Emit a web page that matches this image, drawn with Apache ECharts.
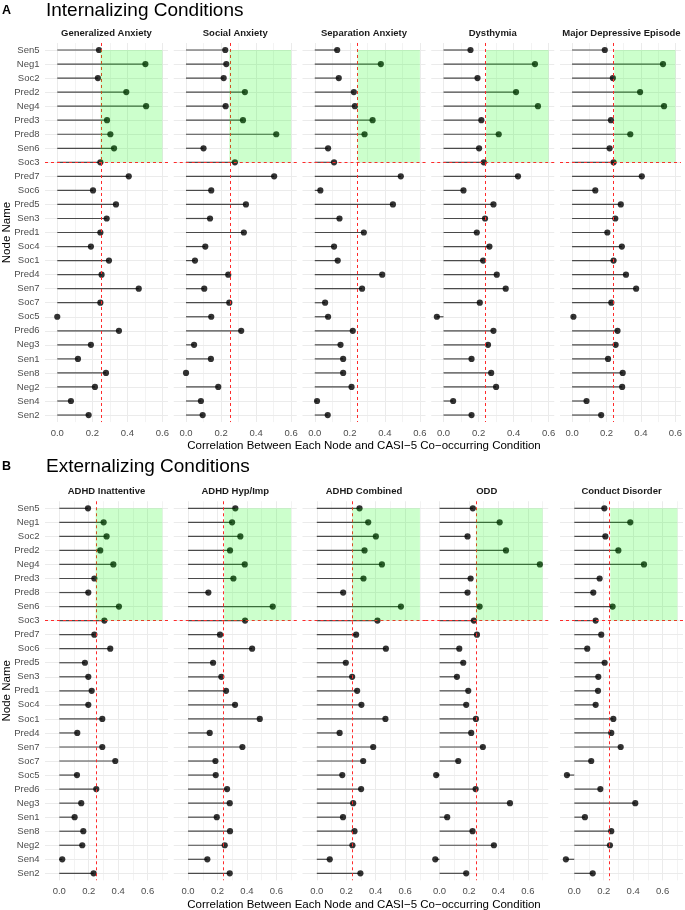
<!DOCTYPE html>
<html><head><meta charset="utf-8">
<script src="https://cdn.jsdelivr.net/npm/echarts@6/dist/echarts.min.js"></script>
<style>html,body{margin:0;padding:0;background:#fff}#c{width:685px;height:910px}</style>
</head><body><div id="c"></div>
<script>
// ---------- DATA ----------
const nodes = ['Sen5','Neg1','Soc2','Pred2','Neg4','Pred3','Pred8','Sen6','Soc3','Pred7','Soc6','Pred5','Sen3','Pred1','Soc4','Soc1','Pred4','Sen7','Soc7','Soc5','Pred6','Neg3','Sen1','Sen8','Neg2','Sen4','Sen2'];
const internalizingFacets = ['Generalized Anxiety','Social Anxiety','Separation Anxiety','Dysthymia','Major Depressive Episode'];
const externalizingFacets = ['ADHD Inattentive','ADHD Hyp/Imp','ADHD Combined','ODD','Conduct Disorder'];

const generalizedAnxiety = [0.238,0.503,0.232,0.394,0.507,0.284,0.303,0.324,0.246,0.408,0.204,0.335,0.282,0.246,0.192,0.295,0.253,0.465,0.246,0.000,0.352,0.192,0.118,0.278,0.215,0.078,0.179];
const socialAnxiety = [0.224,0.230,0.215,0.336,0.226,0.325,0.515,0.100,0.279,0.503,0.144,0.342,0.137,0.330,0.110,0.051,0.241,0.104,0.247,0.144,0.315,0.046,0.142,0.000,0.184,0.085,0.095];
const separationAnxiety = [0.128,0.377,0.137,0.223,0.229,0.330,0.284,0.076,0.110,0.491,0.032,0.446,0.141,0.280,0.110,0.131,0.385,0.270,0.059,0.076,0.217,0.147,0.162,0.162,0.210,0.013,0.074];
const dysthymia = [0.154,0.522,0.194,0.414,0.539,0.216,0.315,0.203,0.230,0.425,0.114,0.285,0.237,0.190,0.262,0.226,0.304,0.355,0.207,-0.038,0.285,0.254,0.160,0.272,0.300,0.055,0.160];
const majorDepressive = [0.190,0.528,0.237,0.395,0.534,0.226,0.338,0.218,0.241,0.405,0.135,0.283,0.251,0.205,0.289,0.241,0.313,0.372,0.228,0.008,0.264,0.253,0.209,0.294,0.291,0.084,0.169];

const adhdInattentive = [0.195,0.301,0.321,0.278,0.367,0.238,0.197,0.405,0.306,0.238,0.346,0.174,0.197,0.220,0.197,0.292,0.122,0.292,0.380,0.120,0.251,0.149,0.104,0.163,0.156,0.020,0.233];
const adhdHypImp = [0.321,0.299,0.355,0.285,0.385,0.308,0.138,0.575,0.387,0.217,0.435,0.170,0.226,0.258,0.319,0.487,0.147,0.369,0.186,0.188,0.265,0.283,0.195,0.285,0.249,0.131,0.283];
const adhdCombined = [0.290,0.349,0.401,0.324,0.442,0.317,0.179,0.571,0.412,0.267,0.469,0.197,0.240,0.274,0.303,0.466,0.155,0.383,0.315,0.173,0.301,0.247,0.178,0.256,0.242,0.088,0.296];
const odd = [0.226,0.408,0.190,0.451,0.681,0.211,0.190,0.272,0.233,0.254,0.134,0.161,0.118,0.195,0.181,0.247,0.215,0.294,0.127,-0.023,0.245,0.478,0.052,0.224,0.369,-0.029,0.181];
const conductDisorder = [0.204,0.380,0.211,0.299,0.473,0.172,0.129,0.260,0.145,0.183,0.088,0.206,0.163,0.161,0.145,0.265,0.251,0.315,0.115,-0.050,0.177,0.414,0.072,0.251,0.242,-0.057,0.125];

const thresholdsA = [0.246,0.247,0.244,0.243,0.245];
const thresholdsB = [0.247,0.245,0.240,0.247,0.245];
const highlightNode = 'Soc3';
const boxTopNode = 'Sen5';
const boxMaxA = 0.6;
const boxMaxB = 0.7;
const tickLabelsA = [0, 0.2, 0.4, 0.6];
const tickLabelsB = [0, 0.2, 0.4, 0.6];
const gridValsA = [0, 0.1, 0.2, 0.3, 0.4, 0.5, 0.6];
const gridValsB = [0, 0.1, 0.2, 0.3, 0.4, 0.5, 0.6, 0.7];

// ---------- LAYOUT ----------
const FONT = '"Liberation Sans", Arial, Helvetica, sans-serif';
const ROW = 14.04;
const panels = [
  {letter:'A', title:'Internalizing Conditions', titleY:10.5, stripY:33, top:50 - ROW/2,
   facets: internalizingFacets, values:[generalizedAnxiety, socialAnxiety, separationAnxiety, dysthymia, majorDepressive],
   thr: thresholdsA, boxMax: boxMaxA, min:-0.07, max:0.632, ticks: tickLabelsA, gridVals: gridValsA,
   shift:[0,0,0,0,0]},
  {letter:'B', title:'Externalizing Conditions', titleY:467, stripY:491, top:508.3 - ROW/2,
   facets: externalizingFacets, values:[adhdInattentive, adhdHypImp, adhdCombined, odd, conductDisorder],
   thr: thresholdsB, boxMax: boxMaxB, min:-0.097, max:0.738, ticks: tickLabelsB, gridVals: gridValsB,
   shift:[0,0,0,-6,0]}
];
const FACET_LEFT = 45, FACET_STEP = 128.75, FACET_W = 123;
const H = ROW * nodes.length;

const grid = [], xAxis = [], yAxis = [], series = [], graphic = [];
let gi = 0;
const hiIdx = nodes.indexOf(highlightNode);
const topIdx = nodes.indexOf(boxTopNode);

panels.forEach((p) => {
  graphic.push({type:'text', x:2, y:p.titleY, style:{text:p.letter, font:'bold 12.5px ' + FONT, fill:'#000', verticalAlign:'middle', textVerticalAlign:'middle'}});
  graphic.push({type:'text', x:46, y:p.titleY, style:{text:p.title, font:'19px ' + FONT, fill:'#000', verticalAlign:'middle', textVerticalAlign:'middle'}});
  graphic.push({type:'text', x:364, y:p.top + H + 24, style:{text:'Correlation Between Each Node and CASI\u22125 Co\u2212occurring Condition', font:'11.5px ' + FONT, fill:'#000', align:'center', textAlign:'center', verticalAlign:'middle', textVerticalAlign:'middle'}});
  graphic.push({type:'text', x:7, y:p.top + H/2, rotation:Math.PI/2, style:{text:'Node Name', font:'11.5px ' + FONT, fill:'#000', align:'center', textAlign:'center', verticalAlign:'middle', textVerticalAlign:'middle'}});
  p.facets.forEach((name, i) => {
    const left = FACET_LEFT + i * FACET_STEP + p.shift[i];
    grid.push({left:left, top:p.top, width:FACET_W, height:H, containLabel:false});
    graphic.push({type:'text', x:left + FACET_W/2, y:p.stripY, style:{text:name, font:'bold 9.5px ' + FONT, fill:'#1a1a1a', align:'center', textAlign:'center', verticalAlign:'middle', textVerticalAlign:'middle'}});
    xAxis.push({gridIndex:gi, type:'value', min:p.min, max:p.max,
      axisLine:{show:false}, axisTick:{show:false}, splitLine:{show:false},
      axisLabel:{customValues:p.ticks, formatter:(v)=>v.toFixed(1), color:'#4d4d4d', fontSize:9.5, fontFamily:FONT, margin:6, hideOverlap:false}});
    yAxis.push({gridIndex:gi, type:'category', data:nodes, inverse:true,
      axisLine:{show:false}, axisTick:{show:false}, splitLine:{show:false},
      axisLabel:{show:i===0, color:'#4d4d4d', fontSize:9.5, fontFamily:FONT, margin:5.5, interval:0}});
    const vals = p.values[i];
    const gridLines = p.gridVals.map(v => ({xAxis:v, lineStyle:{color:'#ebebeb', width:(Math.round(v*10)%2===0)?1:0.6, type:'solid'}}))
      .concat(nodes.map((n,k) => ({yAxis:k, lineStyle:{color:'#ebebeb', width:1, type:'solid'}})));
    series.push({type:'bar', xAxisIndex:gi, yAxisIndex:gi, data:vals, barWidth:1.2,
      itemStyle:{color:'#4a4a4a'}, silent:true, z:2,
      markLine:{silent:true, symbol:['none','none'], z:0, label:{show:false}, animation:false, data:gridLines}});
    series.push({type:'scatter', xAxisIndex:gi, yAxisIndex:gi,
      data: vals.map((v,k) => [v, k]), symbolSize:6.2, itemStyle:{color:'#000'}, silent:true, z:3,
      markLine:{silent:true, symbol:['none','none'], z:4, label:{show:false}, animation:false,
        lineStyle:{color:'#ff2a2a', width:1, type:[3,3]},
        data:[{xAxis:p.thr[i]}, {yAxis:hiIdx}]},
      markArea:{silent:true, z:10, animation:false, itemStyle:{color:'rgba(0,255,0,0.2)', borderWidth:0},
        data:[[{xAxis:p.thr[i], yAxis:topIdx}, {xAxis:p.boxMax, yAxis:hiIdx}]]}});
    gi++;
  });
});

const chart = echarts.init(document.getElementById('c'), null, {renderer:'canvas'});
chart.setOption({animation:false, backgroundColor:'#fff', textStyle:{fontFamily:FONT},
  grid, xAxis, yAxis, series, graphic});
</script></body></html>
